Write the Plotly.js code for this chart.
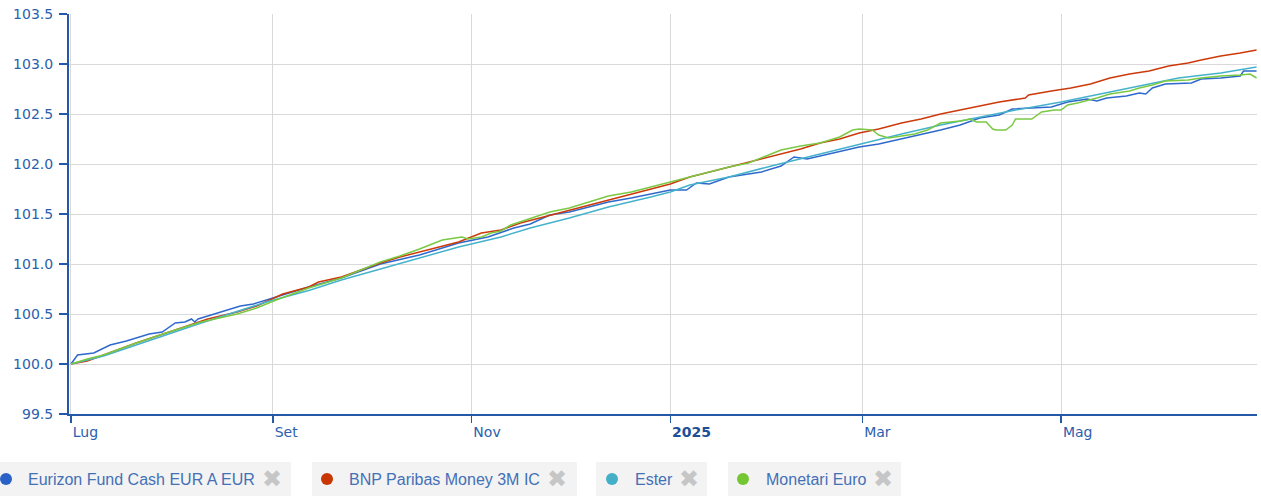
<!DOCTYPE html>
<html>
<head>
<meta charset="utf-8">
<script src="https://cdn.plot.ly/plotly-3.0.1.min.js"></script>
<style>
  html, body { margin: 0; padding: 0; background: #ffffff; }
  #chart { width: 1261px; height: 499px; }
</style>
</head>
<body>
<div id="chart"></div>
<script>
// ---- Data ----
const seriesNames = ["Eurizon Fund Cash EUR A EUR", "BNP Paribas Money 3M IC", "Ester", "Monetari Euro"];

const eurizonDates = ["2024-07-01","2024-07-03","2024-07-08","2024-07-10","2024-07-13","2024-07-18","2024-07-25","2024-07-29","2024-08-02","2024-08-05","2024-08-07","2024-08-08","2024-08-09","2024-08-13","2024-08-16","2024-08-22","2024-08-26","2024-08-31","2024-09-05","2024-09-12","2024-09-22","2024-10-04","2024-10-16","2024-10-28","2024-11-06","2024-11-14","2024-11-19","2024-11-25","2024-12-01","2024-12-07","2024-12-13","2024-12-20","2024-12-26","2025-01-01","2025-01-06","2025-01-09","2025-01-13","2025-01-19","2025-01-25","2025-01-29","2025-02-04","2025-02-08","2025-02-12","2025-02-16","2025-02-22","2025-02-28","2025-03-06","2025-03-13","2025-03-19","2025-03-25","2025-03-31","2025-04-06","2025-04-12","2025-04-16","2025-04-28","2025-05-03","2025-05-09","2025-05-12","2025-05-15","2025-05-21","2025-05-25","2025-05-27","2025-05-29","2025-06-02","2025-06-10","2025-06-13","2025-06-19","2025-06-25","2025-06-26","2025-06-30"];
const eurizonValues = [100.00,100.09,100.11,100.14,100.19,100.23,100.30,100.32,100.41,100.42,100.45,100.42,100.45,100.49,100.52,100.58,100.60,100.65,100.70,100.77,100.86,101.00,101.09,101.21,101.27,101.36,101.40,101.49,101.52,101.57,101.62,101.66,101.70,101.74,101.74,101.81,101.80,101.87,101.90,101.92,101.98,102.07,102.05,102.08,102.13,102.17,102.20,102.25,102.30,102.34,102.39,102.46,102.49,102.55,102.57,102.62,102.65,102.63,102.66,102.68,102.71,102.70,102.76,102.80,102.81,102.85,102.86,102.88,102.93,102.93];

const bnpDates = ["2024-07-01","2024-07-06","2024-07-11","2024-07-21","2024-08-02","2024-08-12","2024-08-21","2024-08-27","2024-09-04","2024-09-12","2024-09-15","2024-09-22","2024-09-28","2024-10-04","2024-10-10","2024-10-16","2024-10-22","2024-10-28","2024-11-04","2024-11-10","2024-11-16","2024-11-22","2024-12-01","2024-12-07","2024-12-13","2024-12-20","2024-12-26","2025-01-01","2025-01-07","2025-01-13","2025-01-19","2025-01-25","2025-02-01","2025-02-04","2025-02-10","2025-02-16","2025-02-22","2025-02-28","2025-03-06","2025-03-13","2025-03-19","2025-03-25","2025-03-31","2025-04-06","2025-04-12","2025-04-20","2025-04-21","2025-04-28","2025-05-04","2025-05-10","2025-05-16","2025-05-22","2025-05-28","2025-06-03","2025-06-09","2025-06-13","2025-06-19","2025-06-25","2025-06-30"];
const bnpValues = [100.00,100.03,100.09,100.21,100.34,100.45,100.52,100.58,100.70,100.77,100.82,100.87,100.94,101.01,101.07,101.12,101.17,101.22,101.31,101.34,101.41,101.46,101.54,101.59,101.64,101.70,101.75,101.80,101.87,101.92,101.97,102.02,102.08,102.10,102.15,102.21,102.25,102.31,102.35,102.41,102.45,102.50,102.54,102.58,102.62,102.66,102.69,102.73,102.76,102.80,102.86,102.90,102.93,102.98,103.01,103.04,103.08,103.11,103.14];

const esterDates = ["2024-07-01","2024-07-11","2024-08-10","2024-08-31","2024-09-12","2024-09-22","2024-10-04","2024-10-16","2024-10-28","2024-11-10","2024-11-19","2024-12-01","2024-12-13","2024-12-26","2025-01-01","2025-01-07","2025-01-19","2025-02-01","2025-02-16","2025-02-28","2025-03-13","2025-03-25","2025-04-06","2025-04-17","2025-05-01","2025-05-13","2025-05-25","2025-06-06","2025-06-19","2025-06-30"];
const esterValues = [100.00,100.08,100.41,100.63,100.735,100.84,100.95,101.06,101.17,101.27,101.36,101.46,101.57,101.67,101.72,101.79,101.87,101.98,102.10,102.20,102.30,102.39,102.47,102.54,102.62,102.70,102.78,102.86,102.91,102.97];

const monetariDates = ["2024-07-01","2024-07-06","2024-07-11","2024-07-21","2024-07-31","2024-08-10","2024-08-21","2024-08-27","2024-09-02","2024-09-12","2024-09-22","2024-10-04","2024-10-10","2024-10-16","2024-10-23","2024-10-29","2024-10-31","2024-11-04","2024-11-07","2024-11-10","2024-11-13","2024-11-22","2024-11-25","2024-12-01","2024-12-07","2024-12-13","2024-12-20","2024-12-26","2025-01-01","2025-01-07","2025-01-13","2025-01-19","2025-01-25","2025-02-01","2025-02-04","2025-02-10","2025-02-16","2025-02-22","2025-02-26","2025-02-28","2025-03-04","2025-03-06","2025-03-09","2025-03-13","2025-03-17","2025-03-21","2025-03-25","2025-03-31","2025-04-03","2025-04-05","2025-04-08","2025-04-10","2025-04-11","2025-04-14","2025-04-16","2025-04-17","2025-04-22","2025-04-25","2025-04-29","2025-05-01","2025-05-03","2025-05-06","2025-05-10","2025-05-12","2025-05-16","2025-05-22","2025-05-25","2025-05-29","2025-06-02","2025-06-09","2025-06-13","2025-06-19","2025-06-25","2025-06-28","2025-06-30"];
const monetariValues = [100.00,100.05,100.09,100.21,100.32,100.42,100.50,100.56,100.64,100.76,100.86,101.02,101.08,101.15,101.24,101.27,101.25,101.27,101.31,101.33,101.39,101.49,101.52,101.56,101.62,101.68,101.72,101.77,101.82,101.87,101.92,101.97,102.01,102.10,102.14,102.18,102.21,102.27,102.34,102.35,102.34,102.29,102.26,102.28,102.30,102.34,102.41,102.43,102.45,102.42,102.42,102.35,102.34,102.34,102.39,102.45,102.45,102.52,102.54,102.54,102.59,102.61,102.64,102.66,102.70,102.73,102.76,102.79,102.83,102.84,102.86,102.88,102.89,102.90,102.86];

const tickDates = ["2024-07-01","2024-09-01","2024-11-01","2025-01-01","2025-03-01","2025-05-01"];
const tickLabels = ["Lug","Set","Nov","2025","Mar","Mag"];

// ---- Styling ----
const lineColors = ["#2f69cc", "#cc3a0a", "#45b2cc", "#7ac943"];
const dotColors  = ["#2b62c8", "#c93600", "#44afc6", "#74c632"];
const axisBlue = "#2559a8";
const labelBlue = "#2b60ad";

const W = 1261, H = 499;
const M = {l: 69, r: 4, t: 14, b: 85};
const PW = W - M.l - M.r, PH = H - M.t - M.b;
const px = x => (x - M.l) / PW;
const py = y => (H - M.b - y) / PH;

const seriesDates = [eurizonDates, bnpDates, esterDates, monetariDates];
const seriesValues = [eurizonValues, bnpValues, esterValues, monetariValues];

const traces = seriesNames.map((name, i) => ({
  type: "scatter",
  mode: "lines",
  name: name,
  x: seriesDates[i],
  y: seriesValues[i],
  line: {color: lineColors[i], width: 1.5},
  hoverinfo: "skip"
}));

const tickText = tickLabels.map(t => /^\d{4}$/.test(t) ? '<b><span style="color:#1d4e96">' + t + '</span></b>' : t);

// Legend boxes (pixel geometry)
const legendBoxes = [
  {x0: 0,   x1: 291, dot: 6,   text: 26,  cross: 272},
  {x0: 312, x1: 577, dot: 327, text: 347, cross: 557},
  {x0: 596, x1: 707, dot: 612, text: 633, cross: 689},
  {x0: 728, x1: 901, dot: 743, text: 764, cross: 883}
];
const legY0 = 462, legY1 = 496, legYc = 479;

const shapes = [];
const annotations = [];
legendBoxes.forEach((b, i) => {
  shapes.push({type: "rect", xref: "paper", yref: "paper",
    x0: px(b.x0), x1: px(b.x1), y0: py(legY1), y1: py(legY0),
    fillcolor: "#f3f3f3", line: {width: 0}, layer: "below"});
  shapes.push({type: "circle", xref: "paper", yref: "paper",
    x0: px(b.dot - 6), x1: px(b.dot + 6), y0: py(legYc + 6), y1: py(legYc - 6),
    fillcolor: dotColors[i], line: {width: 0}});
  annotations.push({xref: "paper", yref: "paper", x: px(b.text), y: py(legYc),
    xanchor: "left", yanchor: "middle", showarrow: false, text: seriesNames[i],
    font: {family: "Liberation Sans, Arial, sans-serif", size: 16, color: "#4470b6"}});
  annotations.push({xref: "paper", yref: "paper", x: px(b.cross), y: py(legYc),
    xanchor: "center", yanchor: "middle", showarrow: false, text: "\u2716",
    font: {family: "DejaVu Sans, sans-serif", size: 24, color: "#c6c6c6"}});
});

const layout = {
  width: W, height: H,
  margin: M,
  paper_bgcolor: "#ffffff",
  plot_bgcolor: "#ffffff",
  showlegend: false,
  hovermode: false,
  font: {family: "DejaVu Sans, Verdana, sans-serif", size: 14, color: labelBlue},
  xaxis: {
    type: "date",
    range: ["2024-06-30 09:20", "2025-06-30 03:20"],
    tickvals: tickDates,
    ticktext: tickText,
    ticks: "outside",
    ticklen: 7,
    tickwidth: 1.5,
    tickcolor: axisBlue,
    ticklabelposition: "outside right",
    ticklabelstandoff: 4,
    tickfont: {family: "DejaVu Sans, Verdana, sans-serif", size: 14, color: labelBlue},
    showline: true,
    linecolor: axisBlue,
    linewidth: 2,
    showgrid: true,
    gridcolor: "#d9d9d9",
    gridwidth: 1,
    zeroline: false,
    fixedrange: true
  },
  yaxis: {
    range: [99.5, 103.5],
    tick0: 99.5,
    dtick: 0.5,
    tickformat: ".1f",
    ticks: "outside",
    ticklen: 8,
    tickwidth: 1.5,
    tickcolor: axisBlue,
    ticklabelstandoff: 3,
    tickfont: {family: "DejaVu Sans, Verdana, sans-serif", size: 14, color: labelBlue},
    showline: true,
    linecolor: axisBlue,
    linewidth: 2,
    showgrid: true,
    gridcolor: "#d9d9d9",
    gridwidth: 1,
    zeroline: false,
    fixedrange: true
  },
  shapes: shapes,
  annotations: annotations
};

Plotly.newPlot("chart", traces, layout, {displayModeBar: false, staticPlot: true});
</script>
</body>
</html>
